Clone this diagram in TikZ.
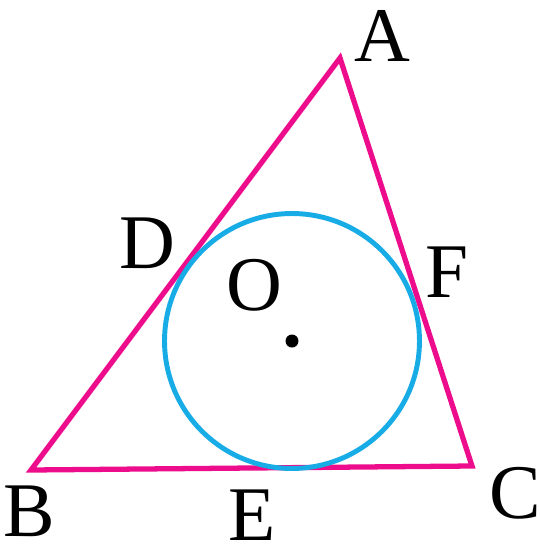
\documentclass[tikz,border=0pt]{standalone}
\usepackage{xcolor}
\usepackage{fontspec}
\setmainfont{Liberation Serif}
\usepackage{tikz}
\usetikzlibrary{positioning}
\definecolor{edgepink}{HTML}{EC0C8C}
\definecolor{circleblue}{HTML}{18ACE6}

\begin{document}
\begin{tikzpicture}[x=0.02cm, y=-0.02cm,
    vertex/.style={inner sep=0pt, font=\fontsize{44}{46}\selectfont}]
  \useasboundingbox (0,0) rectangle (540,556);
  \coordinate (A) at (340,58);
  \coordinate (B) at (31,470);
  \coordinate (C) at (472,466);
  \coordinate (O) at (292,341);
  \draw[edgepink, line width=3pt, line join=miter] (A) -- (B) -- (C) -- cycle;
  \draw[circleblue, line width=2.8pt] (O) circle[radius=2.55cm];
  \fill (O) circle[radius=0.13cm];
  \node[vertex] (labA) at (382,36) {A};
  \node[vertex] (labB) at (29,511) {B};
  \node[vertex] (labC) at (515,493) {C};
  \node[vertex] (labD) at (147,243) {D};
  \node[vertex] (labE) at (252,515) {E};
  \node[vertex] (labF) at (447,272) {F};
  \node[vertex] (labO) at (254,285) {O};
\end{tikzpicture}
\end{document}
